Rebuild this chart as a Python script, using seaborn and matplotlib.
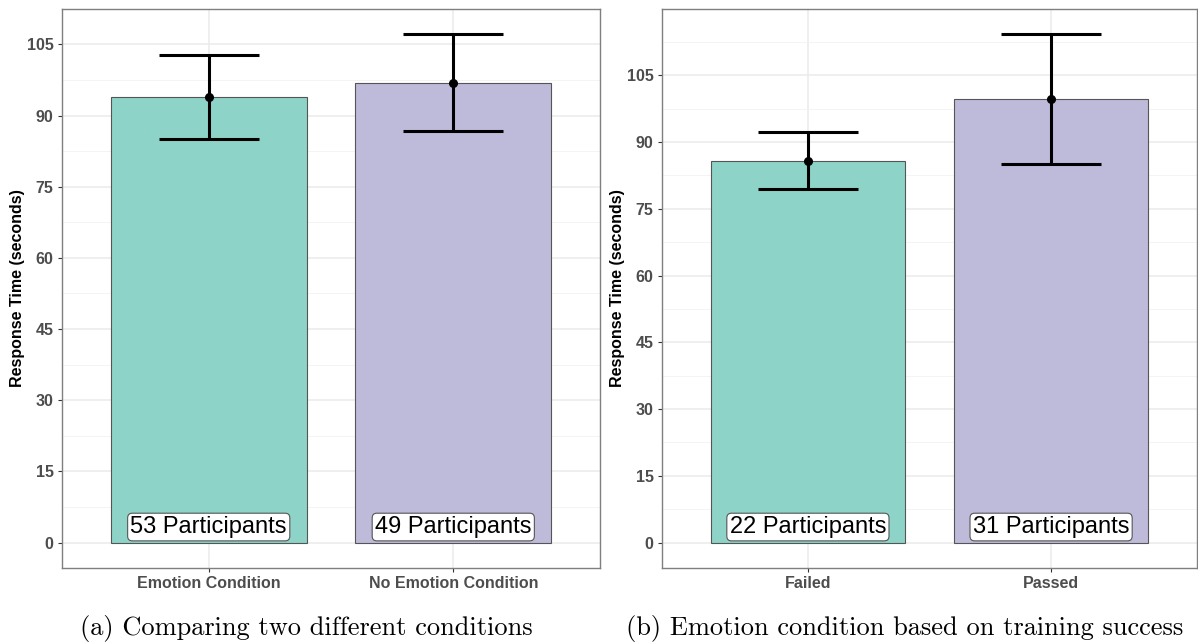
import matplotlib
matplotlib.use("Agg")
import matplotlib.pyplot as plt
import seaborn as sns
import pandas as pd
from matplotlib.ticker import MultipleLocator

# Panel (a)
cond_a = ["Emotion Condition", "No Emotion Condition"]
mean_a = [93.9, 96.9]
low_a = [85.0, 86.8]
high_a = [102.8, 107.1]
n_a = [53, 49]

# Panel (b)
cond_b = ["Failed", "Passed"]
mean_b = [85.8, 99.6]
low_b = [79.5, 85.1]
high_b = [92.2, 114.2]
n_b = [22, 31]

colors = ["#8DD3C7", "#BEBADA"]
captions = ["(a) Comparing two different conditions",
            "(b) Emotion condition based on training success"]

sns.set_theme(style="white")
plt.rcParams['font.family'] = ['Liberation Sans', 'DejaVu Sans']

fig = plt.figure(figsize=(11.98, 6.43), dpi=100)
ax_a = fig.add_axes([62/1198, 1-568/643, 538/1198, 559/643])
ax_b = fig.add_axes([662/1198, 1-568/643, 535/1198, 559/643])

def draw(ax, cats, means, lows, highs, ns, caption, cx):
    df = pd.DataFrame({"cond": cats, "rt": means})
    sns.barplot(data=df, x="cond", y="rt", hue="cond", palette=colors,
                saturation=1, width=0.8, edgecolor="#555555", linewidth=0.8,
                errorbar=None, legend=False, ax=ax, zorder=2)
    xs = list(range(len(cats)))
    yerr = [[m - l for m, l in zip(means, lows)],
            [h - m for m, h in zip(means, highs)]]
    ax.errorbar(xs, means, yerr=yerr, fmt="o", color="black", ms=5.5,
                elinewidth=2.2, capsize=36, capthick=2.2, zorder=4)
    for x, n in zip(xs, ns):
        ax.annotate(f"{n} Participants", xy=(x, 0), xytext=(0, 11.2),
                    textcoords="offset points", ha="center", va="center",
                    fontsize=17, color="black", zorder=5,
                    bbox=dict(boxstyle="round,pad=0.12,rounding_size=0.2",
                              fc="white", ec="#555555", lw=0.8))
    top = max(highs)
    ax.set_ylim(-0.05 * top, top * 1.05)
    ax.set_xlim(-0.6, len(cats) - 0.4)
    ax.yaxis.set_major_locator(MultipleLocator(15))
    ax.yaxis.set_minor_locator(MultipleLocator(7.5))
    ax.grid(True, which="major", color="#EBEBEB", lw=1.1, zorder=0)
    ax.grid(True, which="minor", axis="y", color="#F2F2F2", lw=0.6, zorder=0)
    ax.set_axisbelow(True)
    ax.set_xlabel("")
    ax.set_ylabel("Response Time (seconds)", fontsize=11.5, fontweight="bold",
                  color="black", labelpad=1)
    ax.tick_params(axis="both", which="major", length=3, width=0.8,
                   color="#333333", labelsize=11.5, labelcolor="#4D4D4D",
                   pad=3, bottom=True, left=True)
    ax.tick_params(axis="y", which="minor", length=0)
    for lab in ax.get_xticklabels() + ax.get_yticklabels():
        lab.set_fontweight("bold")
    for s in ax.spines.values():
        s.set_color("#7F7F7F")
        s.set_linewidth(1.0)
    fig.text(cx / 1198, 1 - 628 / 643, caption, ha="center", va="center",
             fontsize=19, family="cmr10", color="black")

draw(ax_a, cond_a, mean_a, low_a, high_a, n_a, captions[0], 306)
draw(ax_b, cond_b, mean_b, low_b, high_b, n_b, captions[1], 905)

fig.savefig("out.png", dpi=100)
